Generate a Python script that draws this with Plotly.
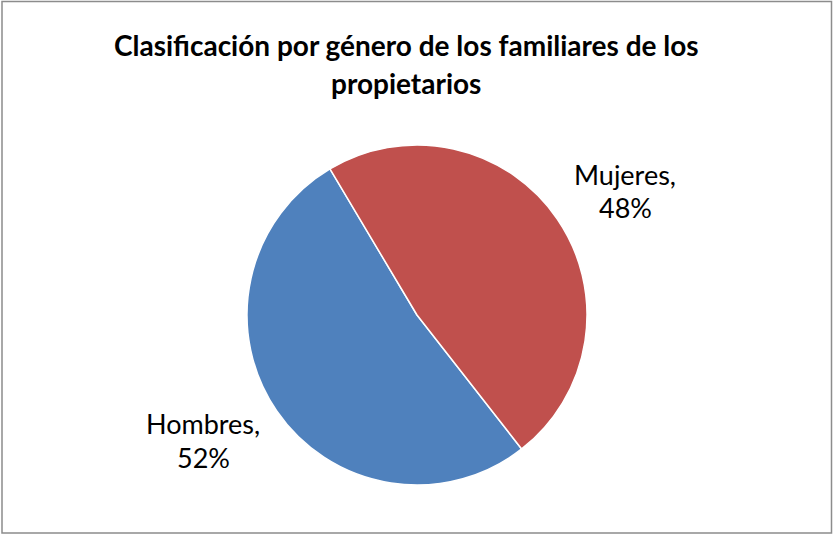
import plotly.graph_objects as go

title_lines = ["Clasificación por género de los familiares de los", "propietarios"]
categories = ["Hombres", "Mujeres"]
values = [52, 48]
colors = ["#4F81BD", "#C0504D"]

W, H = 833, 535

fig = go.Figure()
fig.add_trace(go.Pie(
    labels=categories,
    values=values,
    sort=False,
    direction="clockwise",
    rotation=142,
    marker=dict(colors=colors, line=dict(color="white", width=1.5)),
    textinfo="none",
    hoverinfo="label+percent",
    showlegend=False,
    domain=dict(x=[247 / W, 587 / W], y=[1 - 485 / H, 1 - 145 / H]),
))

def px(x, y):
    return x / W, 1 - y / H

annotations = []
# title
for line, (cx, cy) in zip(title_lines, [(406, 45), (406, 83)]):
    ax, ay = px(cx, cy)
    annotations.append(dict(text="<b>%s</b>" % line, x=ax, y=ay, xref="paper", yref="paper",
                            xanchor="center", yanchor="middle", showarrow=False,
                            font=dict(family="Lato", size=28, color="black")))
# data labels
label_pos = {"Hombres": (203, 423, 457), "Mujeres": (625, 174, 207)}
total = sum(values)
for cat, v in zip(categories, values):
    cx, y1, y2 = label_pos[cat]
    for txt, yy in [(cat + ",", y1), ("%d%%" % round(100 * v / total), y2)]:
        ax, ay = px(cx, yy)
        annotations.append(dict(text=txt, x=ax, y=ay, xref="paper", yref="paper",
                                xanchor="center", yanchor="middle", showarrow=False,
                                font=dict(family="Lato", size=27, color="black")))

fig.update_layout(
    width=W, height=H,
    margin=dict(l=0, r=0, t=0, b=0),
    paper_bgcolor="white",
    plot_bgcolor="white",
    annotations=annotations,
    shapes=[dict(type="rect", xref="paper", yref="paper",
                 x0=2 / W, x1=831.5 / W, y0=1 - 533 / H, y1=1 - 1.5 / H,
                 line=dict(color="#8c8c8c", width=1.5))],
)

fig.write_html("out.html")
